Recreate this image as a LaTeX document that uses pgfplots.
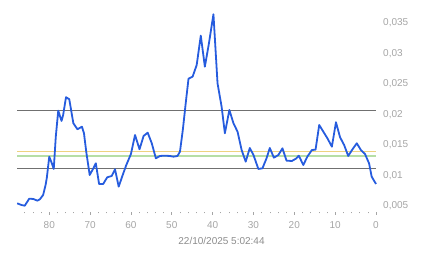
\documentclass[border=0pt]{standalone}
\usepackage{fontspec}
\setmainfont{Liberation Sans}
\usepackage{pgfplots}
\usepackage{pgfplotstable}
\pgfplotsset{compat=1.18}
\definecolor{lineblue}{RGB}{38,92,222}
\definecolor{reflinegray}{RGB}{112,112,112}
\definecolor{refyellow}{RGB}{238,210,128}
\definecolor{refgreen}{RGB}{182,222,166}
\definecolor{labelgray}{RGB}{165,165,165}
\definecolor{titlegray}{RGB}{140,140,140}
\pgfplotstableread{
x y
87.85 0.00544
86.8 0.00516
86.0 0.00505
84.9 0.0062
83.9 0.00615
82.9 0.00587
82.3 0.0061
81.5 0.0068
80.9 0.00844
80.6 0.0096
80.0 0.01309
79.4 0.01205
78.9 0.01107
78.4 0.01637
77.8 0.02063
77.0 0.01894
76.6 0.01992
75.9 0.02283
75.1 0.0225
74.1 0.01856
73.1 0.01758
72.0 0.018
71.5 0.01692
70.9 0.01369
70.1 0.01008
69.2 0.01118
68.6 0.012
67.8 0.00861
66.8 0.00861
65.8 0.00971
64.7 0.00992
63.9 0.01102
63.0 0.00817
62.1 0.00992
61.2 0.01161
60.0 0.01353
59.0 0.01664
57.9 0.0143
56.9 0.01648
55.9 0.01702
54.9 0.01528
53.9 0.01282
52.9 0.0132
51.7 0.01325
50.5 0.0132
49.6 0.01309
48.6 0.0132
48.0 0.0139
47.3 0.01746
46.5 0.02238
45.9 0.02588
44.9 0.0262
43.9 0.02812
42.9 0.03293
41.9 0.02784
40.9 0.03168
39.8 0.03644
38.8 0.02512
37.8 0.02128
37.0 0.01692
35.9 0.02074
34.9 0.01856
33.9 0.01719
32.9 0.01418
31.9 0.01227
30.9 0.01451
30.0 0.01336
28.8 0.01107
27.8 0.01118
26.8 0.01282
26.0 0.01451
25.0 0.01292
23.9 0.01336
22.9 0.01446
21.9 0.01243
20.6 0.01238
19.6 0.01276
18.9 0.01325
17.8 0.01172
16.8 0.01309
15.7 0.01418
14.8 0.01423
13.9 0.01828
12.9 0.01719
11.9 0.0161
10.8 0.01473
9.8 0.01873
8.8 0.01627
7.8 0.015
6.8 0.0132
5.7 0.01435
4.7 0.01528
3.7 0.01418
2.7 0.01353
1.7 0.012
1.05 0.0098
0.0 0.00861
}\series
\begin{document}
\fontsize{10bp}{12bp}\selectfont
\begin{tikzpicture}
\useasboundingbox (0,0) rectangle (443bp,258bp);
\begin{axis}[
  at={(17bp,46bp)}, anchor=south west,
  scale only axis, width=359bp, height=202bp,
  xmin=0, xmax=87.9, x dir=reverse,
  ymin=0.004016, ymax=0.037131,
  axis line style={draw=none},
  xtick={0,10,20,30,40,50,60,70,80},
  minor xtick={2,4,6,8,12,14,16,18,22,24,26,28,32,34,36,38,42,44,46,48,52,54,56,58,62,64,66,68,72,74,76,78,82,84,86},
  xtick pos=bottom, tick align=outside,
  major tick length=3bp, minor tick length=1.5bp,
  xtick style={labelgray, line width=0.6bp},
  ytick={0.005,0.01,0.015,0.02,0.025,0.03,0.035},
  scaled y ticks=false,
  ytick pos=right, ytick style={draw=none},
  /pgf/number format/assume math mode=true,
  yticklabel style={/pgf/number format/use comma, /pgf/number format/fixed, /pgf/number format/precision=3, anchor=west, inner sep=0pt, xshift=4bp, text=labelgray, font=\fontsize{10bp}{12bp}\selectfont},
  xticklabel style={anchor=north, inner sep=0pt, yshift=-6bp, text=labelgray, font=\fontsize{10bp}{12bp}\selectfont},
  clip=false,
]
\addplot[reflinegray, line width=0.9bp] coordinates {(0,0.02066) (87.9,0.02066)};
\addplot[reflinegray, line width=0.9bp] coordinates {(0,0.0111) (87.9,0.0111)};
\addplot[refyellow, line width=1.1bp] coordinates {(0,0.01397) (87.9,0.01397)};
\addplot[refgreen, line width=2.2bp] coordinates {(0,0.01325) (87.9,0.01325)};
\addplot[lineblue, line width=1.8bp, line join=round] table[x=x, y=y] {\series};
\end{axis}
\node[text=titlegray, inner sep=0pt] at (221.5bp,17.3bp) {22/10/2025 5:02:44};
\end{tikzpicture}
\end{document}
